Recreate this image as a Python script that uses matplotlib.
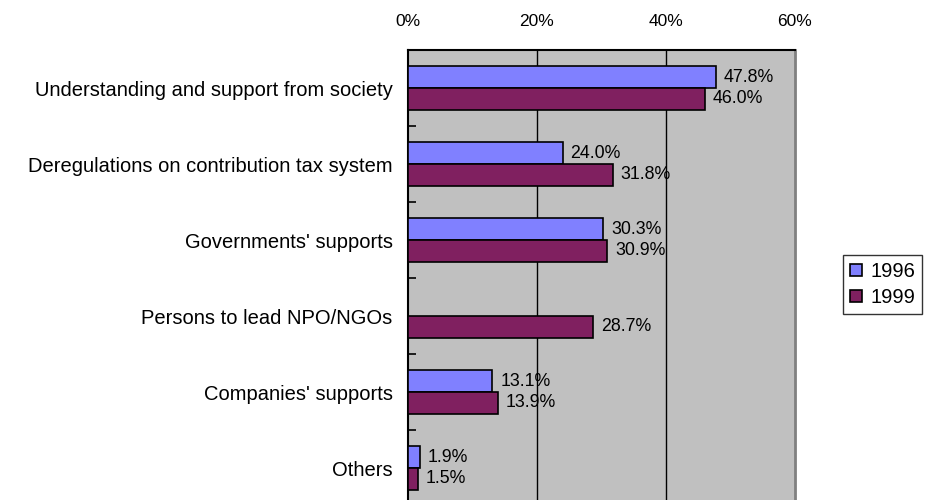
import numpy as np
import matplotlib
matplotlib.use("Agg")
import matplotlib.pyplot as plt
from matplotlib.ticker import FixedLocator

plt.rcParams['font.family'] = ['Liberation Sans', 'DejaVu Sans']

categories = ["Understanding and support from society",
              "Deregulations on contribution tax system",
              "Governments' supports",
              "Persons to lead NPO/NGOs",
              "Companies' supports",
              "Others"]
v1996 = [47.8, 24.0, 30.3, np.nan, 13.1, 1.9]
v1999 = [46.0, 31.8, 30.9, 28.7, 13.9, 1.5]
series_names = ["1996", "1999"]
xticks = [0, 20, 40, 60]
xticklabels = ["0%", "20%", "40%", "60%"]

fig = plt.figure(figsize=(9.26, 5.0), dpi=100)
ax = fig.add_axes([408/926, -6/500, (795-408)/926, 456/500])
ax.set_facecolor('#C0C0C0')

y = np.arange(len(categories))
h = 0.285
b1 = ax.barh(y - h/2, v1996, height=h, color='#8080FF', edgecolor='black', linewidth=1.2, label=series_names[0], zorder=3)
b2 = ax.barh(y + h/2, v1999, height=h, color='#802060', edgecolor='black', linewidth=1.2, label=series_names[1], zorder=3)

for yy, v in zip(y - h/2, v1996):
    if not np.isnan(v):
        ax.text(v + 1.2, yy, f"{v:.1f}%", va='center', ha='left', fontsize=12.8, zorder=4)
for yy, v in zip(y + h/2, v1999):
    if not np.isnan(v):
        ax.text(v + 1.2, yy, f"{v:.1f}%", va='center', ha='left', fontsize=12.8, zorder=4)

ax.set_xlim(0, 60)
ax.set_ylim(len(categories) - 0.5, -0.5)
ax.xaxis.tick_top()
ax.set_xticks(xticks)
ax.set_xticklabels(xticklabels, fontsize=12.5)
ax.tick_params(axis='x', length=0, pad=15)
ax.set_yticks(y)
ax.set_yticklabels(categories, fontsize=14.5)
ax.tick_params(axis='y', which='major', length=0, pad=11)
ax.yaxis.set_minor_locator(FixedLocator(np.arange(0.5, len(categories) - 0.5, 1)))
ax.tick_params(axis='y', which='minor', direction='in', length=6, width=1.2, color='black')

for gx in [20, 40]:
    ax.axvline(gx, color='black', linewidth=1.0, zorder=1)

for s in ['left', 'top']:
    ax.spines[s].set_color('black')
    ax.spines[s].set_linewidth(1.5)
ax.spines['bottom'].set_visible(False)
ax.spines['right'].set_color('#808080')
ax.spines['right'].set_linewidth(2)

leg = fig.legend(handles=[b1, b2], labels=series_names, loc='upper left',
                 bbox_to_anchor=(843/926, 1 - 255/500), fontsize=14.5,
                 frameon=True, fancybox=False, edgecolor='black',
                 handlelength=0.6, handleheight=0.6, handletextpad=0.4,
                 borderpad=0.35, labelspacing=0.35, borderaxespad=0)
leg.get_frame().set_linewidth(1.0)

fig.savefig("out.png", dpi=100)
